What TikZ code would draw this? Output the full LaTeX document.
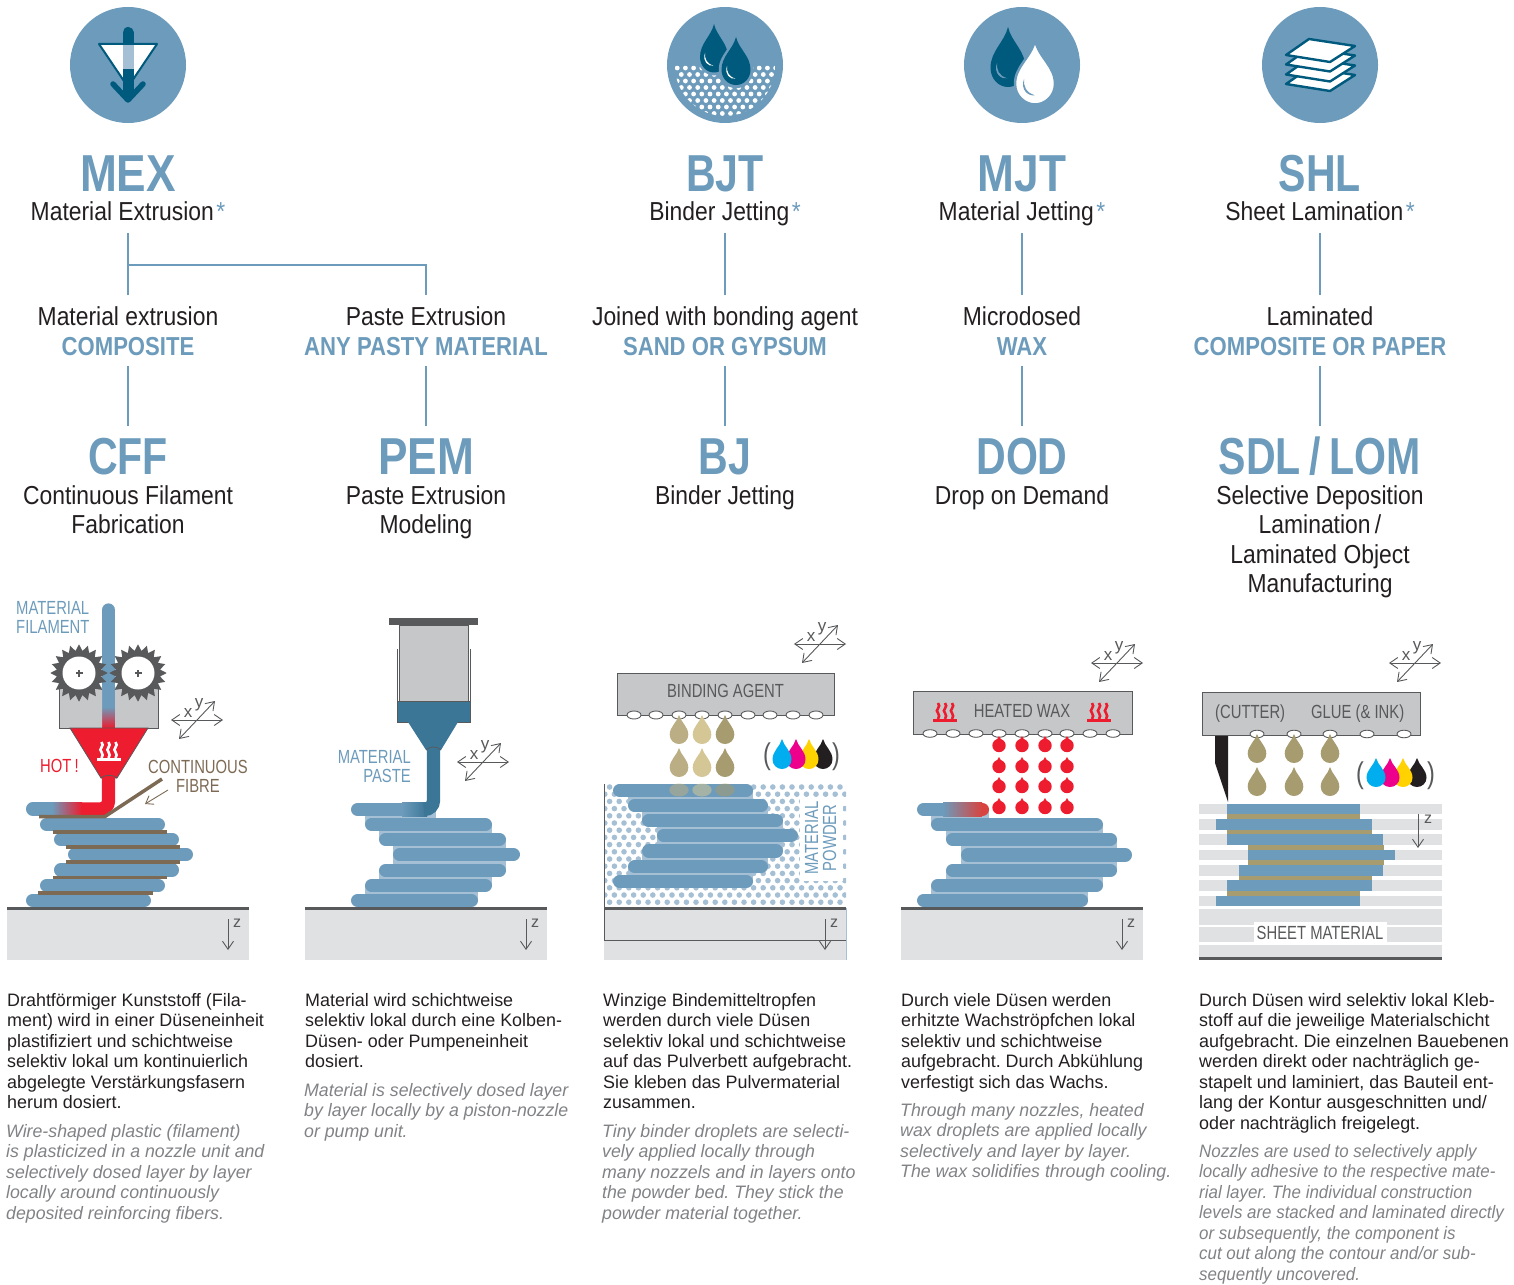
\documentclass[tikz,border=0pt]{standalone}
\usepackage{fontspec}
\usetikzlibrary{arrows.meta}
\setmainfont{Liberation Sans}
\newfontfamily\bodyf[FakeStretch=.995]{Liberation Sans}
\newfontfamily\engf[FakeStretch=.985]{Liberation Sans}
\newfontfamily\engn[FakeStretch=.94]{Liberation Sans}
\newfontfamily\titlef[FakeStretch=.85]{Liberation Sans}
\newfontfamily\titleg[FakeStretch=.79]{Liberation Sans}
\newfontfamily\bluef[FakeStretch=.85]{Liberation Sans}
\newfontfamily\subf[FakeStretch=.88]{Liberation Sans}
\newfontfamily\labf[FakeStretch=.78]{Liberation Sans}
\definecolor{bluec}{HTML}{6C9BBB}
\definecolor{lightb}{HTML}{A5C0D5}
\definecolor{darkb}{HTML}{005A7D}
\definecolor{midb}{HTML}{3C7697}
\definecolor{inkc}{HTML}{231F20}
\definecolor{itc}{HTML}{808285}
\definecolor{darkl}{HTML}{58595B}
\definecolor{baseg}{HTML}{E0E1E3}
\definecolor{headg}{HTML}{C6C7C9}
\definecolor{redc}{HTML}{ED1C2E}
\definecolor{brownc}{HTML}{7D6A55}
\definecolor{tana}{HTML}{BBAE85}
\definecolor{tanb}{HTML}{D4C795}
\definecolor{tanc}{HTML}{A79C6F}
\definecolor{cyanc}{HTML}{00AEEF}
\definecolor{magc}{HTML}{EC008C}
\definecolor{yelc}{HTML}{FFD200}
\definecolor{waxred}{HTML}{D8433F}
\newcommand\astmark{\hspace{2.5pt}\textcolor{bluec}{*}}
\tikzset{
  tit/.style={font=\titlef\bfseries\fontsize{52}{52}\selectfont,text=bluec,anchor=base,inner sep=0pt},
  titn/.style={tit,font=\titleg\bfseries\fontsize{52}{52}\selectfont},
  titc/.style={tit,text height=48pt},
  titd/.style={titn,text height=48pt},
  subt/.style={font=\subf\fontsize{26}{29.5}\selectfont,text=inkc,anchor=base,inner sep=0pt},
  subd/.style={subt,text depth=13pt},
  subu/.style={subt,text height=30pt},
  bluel/.style={font=\bluef\bfseries\fontsize{26}{29}\selectfont,text=bluec,anchor=base,inner sep=0pt,text depth=11pt},
  multi/.style={font=\subf\fontsize{26}{29.5}\selectfont,text=inkc,anchor=north,inner sep=0pt,align=center},
  conn/.style={draw=bluec,line width=1.8pt},
  de/.style={font=\bodyf\frenchspacing\fontsize{18}{20.5}\selectfont,text=inkc,anchor=north west,inner sep=0pt,align=left},
  en/.style={font=\engf\frenchspacing\itshape\fontsize{18}{20.5}\selectfont,text=itc,anchor=north west,inner sep=0pt,align=left},
  enn/.style={en,font=\engn\frenchspacing\itshape\fontsize{18}{20.5}\selectfont},
  lab/.style={font=\labf\fontsize{19}{19}\selectfont,anchor=base,inner sep=0pt},
  axl/.style={font=\fontsize{17}{17}\selectfont,text=darkl,anchor=center,inner sep=0pt},
  azl/.style={font=\fontsize{16}{16}\selectfont,text=darkl,anchor=center,inner sep=0pt},
  axis/.style={draw=darkl,line width=.9pt},
  barline/.style={draw=bluec,line width=13.3pt,line cap=round},
  fib/.style={fill=brownc},
  headb/.style={fill=headg,draw=darkl,line width=1pt},
  noz/.style={fill=white,draw=darkl,line width=.9pt},
}
\newcommand\lay[3]{\draw[barline] ({#1+6.65},#3) -- ({#2-6.65},#3);}
\newcommand\gapf[4]{\fill[lightb] (#1,#3) rectangle (#2,#4);}
\newcommand\basep[1]{\fill[baseg] (#1,910) rectangle ({#1+242},960);\fill[darkl] (#1,907) rectangle ({#1+242},910);}
\newcommand\drp[5]{\begin{scope}[shift={(#1,#2)},xscale=#4,yscale={#3-#2}]
  \fill[#5] (0,0) .. controls (.2,.25) and (1,.4) .. (1,.68) .. controls (1,.86) and (.55,1) .. (0,1) .. controls (-.55,1) and (-1,.86) .. (-1,.68) .. controls (-1,.4) and (-.2,.25) .. (0,0) -- cycle;
\end{scope}}
\newcommand\rdrop[3]{\begin{scope}[shift={(#1,#2)}]
  \fill[#3] (0,0) -- (-3.5,6) -- (3.5,6) -- cycle;
  \fill[#3] (0,9.5) circle[radius=6.7];
\end{scope}}
\newcommand\xyz[3]{\draw[axis,{Straight Barb[length=8pt,width=11pt]}-{Straight Barb[length=8pt,width=11pt]}] ({#2-26},#3) -- ({#2+26},#3);
  \draw[axis,{Straight Barb[length=8pt,width=11pt]}-{Straight Barb[length=8pt,width=11pt]}] ({#2-18},{#3+19}) -- ({#2+18},{#3-19});
  \node[axl] (#1x) at ({#2-9},{#3-7}) {x};
  \node[axl] (#1y) at ({#2+2},{#3-15}) {y};}
\newcommand\zax[4]{\draw[axis,-{Straight Barb[length=8pt,width=11pt]}] (#2,#3) -- (#2,{#3+31});
  \node[azl] (#1) at ({#2+9},{#3+4}) {z};}
\newcommand\heat[3]{\begin{scope}[shift={(#1,#2)}]
  \foreach \d in {-7,0,7} {\draw[#3,line width=2.6pt] (\d,0) .. controls ({\d+4},4) and ({\d-4},7) .. (\d,10) .. controls ({\d+2},12) and ({\d+1},14) .. (\d,16);}
  \fill[#3] (-12,15.5) rectangle (12,18.5);
\end{scope}}
\newcommand\gear[2]{\fill[darkl] plot[samples at={0,9,...,351},variable=\a] ({#1+(25.5+3.2*cos(20*\a))*cos(\a)},{#2+(25.5+3.2*cos(20*\a))*sin(\a)}) -- cycle;
  \fill[white] (#1,#2) circle[radius=16.5];
  \fill[darkl] ({#1-3.5},{#2-1.1}) rectangle ({#1+3.5},{#2+1.1}); \fill[darkl] ({#1-1.1},{#2-3.5}) rectangle ({#1+1.1},{#2+3.5});}
\newcommand\cmyk[3]{\drp{#1+41}{#2}{#3}{9.5}{inkc}\drp{#1+27}{#2}{#3}{9.5}{yelc}\drp{#1+14}{#2}{#3}{9.5}{magc}\drp{#1}{#2}{#3}{9.5}{cyanc}}
\newcommand\crescent[4]{\begin{scope}[shift={(#1,#2)},scale=#3]\fill[#4] (0,0) .. controls (-.3,4) and (1,7.5) .. (6,9) .. controls (2.5,9.8) and (-2.2,6) .. (0,0) -- cycle;\end{scope}}
\begin{document}
\begin{tikzpicture}[x=1pt,y=-1pt]
\useasboundingbox (0,0) rectangle (1514,1284);
% ---------- icons
\fill[bluec] (128,65) circle[radius=58];
\fill[white] (99,44) -- (157,44) -- (128,87) -- cycle;
\draw[darkb,line width=2pt,line join=round] (99,44) -- (157,44) -- (128,87) -- cycle;
\draw[darkb,line width=11pt,line cap=round] (128,32.5) -- (128,45);
\fill[lightb] (122.5,45) rectangle (133.5,69.5);
\fill[darkb] (122.5,69.5) rectangle (133.5,98);
\draw[darkb,line width=5.5pt,line cap=round,line join=round] (113,84) -- (128,100) -- (143,84);
% BJT icon
\fill[bluec] (725,65) circle[radius=58];
\begin{scope}
  \clip (675,66) -- (775,66) arc[start angle=0,end angle=180,x radius=50,y radius=50] -- cycle;
  \foreach \r in {0,...,7} \foreach \c in {0,...,13} {
    \pgfmathsetmacro\dx{669+8.2*\c+4.1*mod(\r,2)}
    \pgfmathsetmacro\dy{68+6.5*\r}
    \fill[white] (\dx,\dy) circle[radius=2.4];}
\end{scope}
\draw[bluec,fill=bluec,line width=3pt] (714,21) .. controls (717,34) and (729.5,42) .. (729.5,56) .. controls (729.5,66) and (722,74) .. (714,74) .. controls (706,74) and (698.5,66) .. (698.5,56) .. controls (698.5,42) and (711,34) .. (714,21) -- cycle;
\drp{714}{24}{72.5}{14}{darkb}
\draw[bluec,fill=bluec,line width=2.5pt] (736,34) .. controls (739,48) and (752,56) .. (752,69) .. controls (752,80) and (744,87) .. (736,87) .. controls (728,87) and (720,80) .. (720,69) .. controls (720,56) and (733,48) .. (736,34) -- cycle;
\drp{736}{37}{85}{14.5}{darkb}
\crescent{705}{53}{1.4}{white}
\crescent{727}{66}{1.4}{white}
% MJT icon
\fill[bluec] (1022,65) circle[radius=58];
\drp{1008}{27}{87}{17.5}{darkb}
\draw[bluec,fill=white,line width=2.5pt] (1035,40) .. controls (1039,58) and (1055,66) .. (1055,84) .. controls (1055,96) and (1045,104.5) .. (1035,104.5) .. controls (1025,104.5) and (1015,96) .. (1015,84) .. controls (1015,66) and (1031,58) .. (1035,40) -- cycle;
\crescent{997}{63}{1.7}{bluec}
\crescent{1024}{79}{1.8}{bluec}
% SHL icon
\fill[bluec] (1320,65) circle[radius=58];
\foreach \o in {29,19.5,9.5,0}
  {\draw[darkb,fill=white,line width=2.4pt,line join=round,shift={(0,\o)}] (1309,39) -- (1355,46) -- (1330,62) -- (1286,55) -- cycle;}
% ---------- headings
\node[tit] (mex) at (128,192) {MEX};
\node[subd] (mexs) at (128,220) {Material Extrusion\astmark};
\node[titn] (bjt) at (725,192) {BJT};
\node[subd] (bjts) at (725,220) {Binder Jetting\astmark};
\node[tit] (mjt) at (1022,192) {MJT};
\node[subd] (mjts) at (1022,220) {Material Jetting\astmark};
\node[titn] (shl) at (1320,192) {SHL};
\node[subd] (shls) at (1320,220) {Sheet Lamination\astmark};
\node[subu] (a1) at (128,325) {Material extrusion};
\node[bluel] (a2) at (128,355) {COMPOSITE};
\node[subu] (b1) at (426,325) {Paste Extrusion};
\node[bluel] (b2) at (426,355) {ANY PASTY MATERIAL};
\node[subu] (c1) at (725,325) {Joined with bonding agent};
\node[bluel] (c2) at (725,355) {SAND OR GYPSUM};
\node[subu] (d1) at (1022,325) {Microdosed};
\node[bluel] (d2) at (1022,355) {WAX};
\node[subu] (e1) at (1320,325) {Laminated};
\node[bluel] (e2) at (1320,355) {COMPOSITE OR PAPER};
\node[titd] (cff) at (128,474) {CFF};
\node[titc] (pem) at (426,474) {PEM};
\node[titd] (bj) at (725,474) {BJ};
\node[titd] (dod) at (1022,474) {DOD};
\node[titd] (sdl) at (1320,474) {SDL\,/\,LOM};
\node[multi] (cffs) at (128,485) {Continuous Filament\\Fabrication};
\node[multi] (pems) at (426,485) {Paste Extrusion\\Modeling};
\node[multi] (bjs) at (725,485) {Binder Jetting};
\node[multi] (dods) at (1022,485) {Drop on Demand};
\node[multi] (sdls) at (1320,485) {Selective Deposition\\Lamination\,/\\Laminated Object\\Manufacturing};
% connectors
\coordinate (j1) at (128,265);
\draw[conn] (mexs.south) -- (a1.north);
\draw[conn] (j1) -| (b1.north);
\draw[conn] (bjts.south) -- (c1.north);
\draw[conn] (mjts.south) -- (d1.north);
\draw[conn] (shls.south) -- (e1.north);
\draw[conn] (a2.south) -- (cff.north);
\draw[conn] (b2.south) -- (pem.north);
\draw[conn] (c2.south) -- (bj.north);
\draw[conn] (d2.south) -- (dod.north);
\draw[conn] (e2.south) -- (sdl.north);
% ---------- MEX panel
\basep{7}
\draw[barline] (108.5,610) -- (108.5,707);
\shade[top color=bluec,bottom color=redc] (102,707) rectangle (115,728);
\fill[headg] (59,687) rectangle (102,728) (115,687) rectangle (158,728);
\draw[darkl,line width=1pt] (102,728) -- (59,728) -- (59,687) (115,728) -- (158,728) -- (158,687);
\gear{79}{673}
\gear{138}{673}
\fill[redc,draw=darkl,line width=.8pt] (70,728) -- (148,728) -- (117,778) -- (101,778) -- cycle;
\heat{108.5}{742}{white}
\node[lab,text=bluec,anchor=base west] (mf1) at (16,614) {MATERIAL};
\node[lab,text=bluec,anchor=base west] (mf2) at (16,633) {FILAMENT};
\node[lab,text=redc,anchor=base west] (hot) at (40,772) {HOT\,!};
\node[lab,text=brownc] (cf1) at (198,773) {CONTINUOUS};
\node[lab,text=brownc] (cf2) at (198,792) {FIBRE};
\lay{40}{165}{824.5}
\lay{54}{179}{839.5}
\lay{68}{193}{854.5}
\lay{54}{179}{870}
\lay{40}{165}{885.5}
\lay{26}{151}{900.5}
\draw[barline,line cap=round] (32.65,809) -- (52,809);
\shade[left color=bluec,right color=redc] (52,802.35) rectangle (82,815.65);
\draw[redc,line width=13.3pt,rounded corners=8pt] (82,809) -- (108.5,809) -- (108.5,775);
\draw[darkl,line width=.8pt] (101,778) .. controls (104,774.5) and (114,774.5) .. (117,778);
\draw[brownc,line width=3.5pt] (39,816.5) -- (105,816.5) -- (162,779);
\fill[fib] (53,830) rectangle (167,834);
\fill[fib] (66,845) rectangle (180,849);
\fill[fib] (66,860.3) rectangle (180,864);
\fill[fib] (53,875.6) rectangle (167,879.4);
\fill[fib] (38,891) rectangle (153,895);
\draw[brownc,line width=.9pt,-{Straight Barb[length=7pt,width=10pt]}] (168,790) -- (145,804);
\xyz{pa}{197}{720}
\zax{paz}{228}{919}{}
% ---------- PEM panel
\basep{305}
\draw[darkl,line width=1pt] (397,722) -- (397,649) (470,722) -- (470,649);
\fill[headg,draw=darkl,line width=1pt] (399,625) rectangle (468,701);
\fill[darkl] (389,618) rectangle (478,625);
\fill[midb,draw=darkl,line width=.8pt] (397,701) rectangle (470,722);
\fill[midb] (408,722) -- (458,722) -- (441,750) -- (426,750) -- cycle;
\gapf{365}{436}{809}{824}
\gapf{379}{492}{824}{840}
\gapf{393}{506}{840}{855}
\gapf{393}{506}{855}{870}
\gapf{379}{492}{870}{885}
\gapf{365}{478}{885}{900}
\lay{365}{492}{824.5}
\lay{379}{506}{839.5}
\lay{393}{520}{854.5}
\lay{379}{506}{870.5}
\lay{365}{492}{885.5}
\lay{351}{478}{900.5}
\draw[barline] (357.65,809.5) -- (402,809.5);
\shade[left color=bluec,right color=midb] (402,802.85) rectangle (427,816.15);
\draw[midb,line width=13.3pt,rounded corners=9pt] (427,809.5) -- (433.5,809.5) -- (433.5,748);
\draw[darkl,line width=.7pt] (426,750) .. controls (430,746) and (437,746) .. (441,750);
\node[lab,text=bluec,anchor=base east] (mp1) at (411,763) {MATERIAL};
\node[lab,text=bluec,anchor=base east] (mp2) at (411,782) {PASTE};
\xyz{pb}{483}{762}
\zax{pbz}{526}{919}{}
% ---------- BJT panel
\basep{604}
\begin{scope}
  \clip (604,784) rectangle (846,907);
  \foreach \r in {0,...,16} \foreach \c in {0,...,25} {
    \pgfmathsetmacro\dx{600+9.6*\c+4.8*mod(\r,2)}
    \pgfmathsetmacro\dy{787+7.2*\r}
    \fill[lightb] (\dx,\dy) circle[radius=2.8];}
\end{scope}
\draw[darkl,line width=.7pt] (604,784) -- (604,940) -- (846,940);
\draw[lightb,line width=.8pt] (846,908) -- (846,960);
\gapf{628}{753}{791}{806}
\gapf{642}{768}{806}{821}
\gapf{657}{783}{821}{836}
\gapf{657}{783}{836}{851}
\gapf{642}{768}{851}{867}
\gapf{628}{753}{867}{882}
\lay{613}{753}{790.5}
\lay{628}{768}{805.5}
\lay{642}{783}{820.5}
\lay{657}{798}{835.5}
\lay{642}{783}{851}
\lay{628}{768}{866.5}
\lay{613}{753}{881.5}
\fill[white] (800,798) rectangle (843,881);
\node[lab,text=bluec,rotate=90] (mpa) at (818,838) {MATERIAL};
\node[lab,text=bluec,rotate=90] (mpb) at (836,838) {POWDER};
\fill[tana,fill opacity=.55] (679,790) ellipse[x radius=9.7,y radius=6.5];
\fill[tanb,fill opacity=.55] (702,790) ellipse[x radius=9.7,y radius=6.5];
\fill[tanc,fill opacity=.55] (725,790) ellipse[x radius=9.7,y radius=6.5];
\fill[headg,draw=darkl,line width=1pt] (617,673) rectangle (834,715);
\node[lab,text=darkl] (ba) at (725.5,697) {BINDING AGENT};
\foreach \x in {634,656,679,702,725,748,770,793,816} {\fill[noz] (\x,715) ellipse[x radius=7,y radius=4];}
\drp{679}{715}{744}{9.3}{tana}\drp{702}{715}{744}{9.3}{tanb}\drp{725}{715}{744}{9.3}{tanc}
\drp{679}{748}{777}{9.3}{tana}\drp{702}{748}{777}{9.3}{tanb}\drp{725}{748}{777}{9.3}{tanc}
\cmyk{782}{739}{769}
\node[lab,text=darkl,font=\labf\fontsize{30}{30}\selectfont] (pl1) at (767,764) {(};
\node[lab,text=darkl,font=\labf\fontsize{30}{30}\selectfont] (pr1) at (836,764) {)};
\xyz{pc}{820}{644}
\zax{pcz}{825}{919}{}
% ---------- MJT panel
\basep{901}
\gapf{931}{989}{809}{824}
\gapf{946}{1103}{824}{840}
\gapf{961}{1117}{840}{855}
\gapf{961}{1117}{855}{870}
\gapf{946}{1103}{870}{885}
\gapf{931}{1088}{885}{900}
\lay{931}{1103}{824.5}
\lay{946}{1117}{839.5}
\lay{961}{1132}{855}
\lay{946}{1117}{870.5}
\lay{931}{1103}{885.5}
\lay{917}{1088}{900.5}
\draw[barline] (923.65,809.5) -- (943,809.5);
\draw[waxred,line width=13.3pt,line cap=round] (981,809.5) -- (982.35,809.5);
\shade[left color=bluec,right color=waxred] (943,802.85) rectangle (982,816.15);
\fill[headg,draw=darkl,line width=1pt] (913,691) rectangle (1132,734);
\node[lab,text=darkl] (hw) at (1022,717) {HEATED WAX};
\heat{945}{703}{redc}
\heat{1099}{703}{redc}
\foreach \x in {930,953,976,999,1022,1045,1067,1090,1113} {\fill[noz] (\x,733.5) ellipse[x radius=7,y radius=3.8];}
\foreach \x in {999,1022,1045,1067} {\foreach \y in {736,757,777,798} {\rdrop{\x}{\y}{redc}}}
\xyz{pd}{1117}{663}
\zax{pdz}{1122}{919}{}
% ---------- SHL panel
\foreach \a/\b in {804/814,819/830,834/845,850/860,865/876,880/891,896/906,909/925,927/942,945/957}
  {\fill[baseg] (1199,\a) rectangle (1442,\b);}
\fill[darkl] (1199,957) rectangle (1442,960);
\foreach \a/\b/\c/\d in {1227/1360/814/819,1227/1372/830/834,1248/1384/845/850,1248/1384/860/865,1239/1372/876/880,1227/1360/891/896}
  {\fill[tanc] (\a,\c) rectangle (\b,\d);}
\foreach \a/\b/\c/\d in {1227/1360/804/814,1216/1372/819/830,1227/1383/834/845,1248/1395/850/860,1239/1383/865/876,1227/1372/880/891,1216/1360/896/906}
  {\fill[bluec] (\a,\c) rectangle (\b,\d);}
\fill[white] (1254,922) rectangle (1387,943);
\node[lab,text=darkl] (sm) at (1320,939) {SHEET MATERIAL};
\fill[inkc] (1215,735) -- (1228,735) -- (1228,802) -- (1215,763) -- cycle;
\fill[headg,draw=darkl,line width=1pt] (1202,692) rectangle (1420,735);
\node[lab,text=darkl,anchor=base west] (cut) at (1215,718) {(CUTTER)};
\node[lab,text=darkl,anchor=base west] (glue) at (1311,718) {GLUE (\& INK)};
\foreach \x in {1257,1294,1330,1367,1404} {\fill[noz] (\x,734) ellipse[x radius=7,y radius=3.8];}
\foreach \x in {1257,1294,1330} {\drp{\x}{734}{763}{9.3}{tanc}\drp{\x}{767}{796}{9.3}{tanc}}
\cmyk{1376}{758}{787}
\node[lab,text=darkl,font=\labf\fontsize{30}{30}\selectfont] (pl2) at (1360,783) {(};
\node[lab,text=darkl,font=\labf\fontsize{30}{30}\selectfont] (pr2) at (1431,783) {)};
\xyz{pe}{1415}{663}
\draw[axis,-{Straight Barb[length=8pt,width=11pt]}] (1418,814) -- (1418,848);
\node[azl] (pez) at (1428,819) {z};
% ---------- body text
\node[de] (t1) at (7,991.65) {\strut Drahtförmiger Kunststoff (Fila-\\ment) wird in einer Düseneinheit\\plastifiziert und schichtweise\\selektiv lokal um kontinuierlich\\abgelegte Verstärkungsfasern\\herum dosiert.};
\node[en] (u1) at (6,1122.65) {\strut Wire-shaped plastic (filament)\\is plasticized in a nozzle unit and\\selectively dosed layer by layer\\locally around continuously\\deposited reinforcing fibers.};
\node[de] (t2) at (305,991.65) {\strut Material wird schichtweise\\selektiv lokal durch eine Kolben-\\Düsen- oder Pumpeneinheit\\dosiert.};
\node[en] (u2) at (304,1081.65) {\strut Material is selectively dosed layer\\by layer locally by a piston-nozzle\\or pump unit.};
\node[de] (t3) at (603,991.65) {\strut Winzige Bindemitteltropfen\\werden durch viele Düsen\\selektiv lokal und schichtweise\\auf das Pulverbett aufgebracht.\\Sie kleben das Pulvermaterial\\zusammen.};
\node[en] (u3) at (602,1122.65) {\strut Tiny binder droplets are selecti-\\vely applied locally through\\many nozzels and in layers onto\\the powder bed. They stick the\\powder material together.};
\node[de] (t4) at (901,991.65) {\strut Durch viele Düsen werden\\erhitzte Wachströpfchen lokal\\selektiv und schichtweise\\aufgebracht. Durch Abkühlung\\verfestigt sich das Wachs.};
\node[en] (u4) at (900,1101.65) {\strut Through many nozzles, heated\\wax droplets are applied locally\\selectively and layer by layer.\\The wax solidifies through cooling.};
\node[de] (t5) at (1199,991.65) {\strut Durch Düsen wird selektiv lokal Kleb-\\stoff auf die jeweilige Materialschicht\\aufgebracht. Die einzelnen Bauebenen\\werden direkt oder nachträglich ge-\\stapelt und laminiert, das Bauteil ent-\\lang der Kontur ausgeschnitten und/\\oder nachträglich freigelegt.};
\node[enn] (u5) at (1199,1142.65) {\strut Nozzles are used to selectively apply\\locally adhesive to the respective mate-\\rial layer. The individual construction\\levels are stacked and laminated directly\\or subsequently, the component is\\cut out along the contour and/or sub-\\sequently uncovered.};
\end{tikzpicture}
\end{document}
